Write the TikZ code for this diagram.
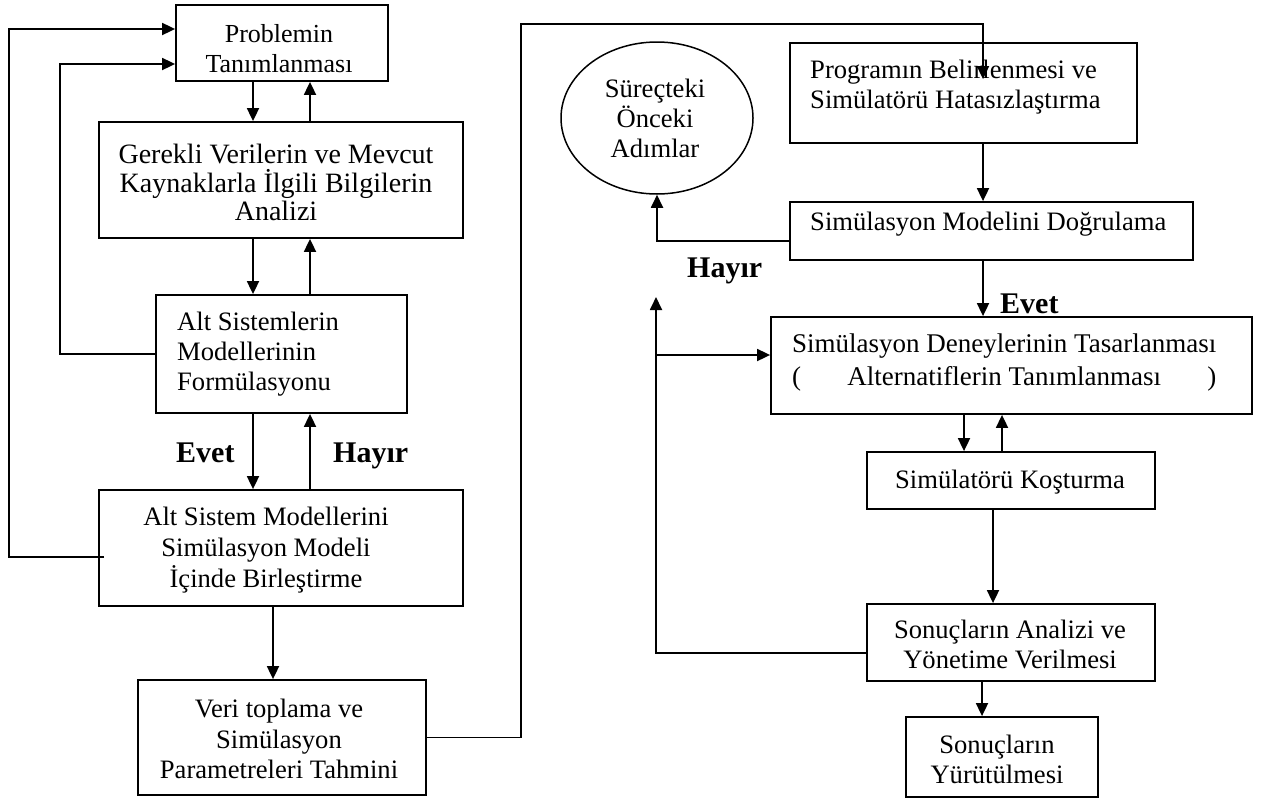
\documentclass[tikz,border=0pt]{standalone}
\usepackage{fontspec}
\setmainfont{Liberation Serif}
\usetikzlibrary{arrows.meta,shapes.geometric,calc}

\tikzset{
  box/.style={draw, line width=1.8pt, rectangle, inner sep=0pt},
  oval/.style={draw, line width=1.5pt, ellipse, inner sep=0pt},
  txt/.style={inner sep=0pt, align=center, font={\fontsize{26.6}{30}\selectfont}},
  txtl/.style={txt, align=left},
  yesno/.style={inner sep=0pt, anchor=base west, font={\fontsize{30}{34}\selectfont\bfseries}},
  arr/.style={line width=1.8pt, -{Triangle[length=13pt,width=12pt]}},
}

\begin{document}
\begin{tikzpicture}[x=1pt,y=-1pt]
\useasboundingbox (0,0) rectangle (1273,798);

% ---------- left column ----------
\node[box, minimum width=212, minimum height=76] (A) at (282,43) {};
\node[txt, anchor=north, font={\fontsize{26}{30}\selectfont}] (At) at (279,24) {Problemin\\Tanımlanması};

\node[box, minimum width=364, minimum height=116] (B) at (281,180) {};
\node[txt, anchor=north, font={\fontsize{28}{28.5}\selectfont}] (Bt) at (276,144)
  {Gerekli Verilerin ve Mevcut\\Kaynaklarla İlgili Bilgilerin\\Analizi};

\node[box, minimum width=251, minimum height=118] (C) at (281.5,354) {};
\node[txtl, anchor=north west] (Ct) at (177,312)
  {Alt Sistemlerin\\Modellerinin\\Formülasyonu};

\node[box, minimum width=364, minimum height=116] (D) at (281,548) {};
\node[txt, anchor=north, font={\fontsize{26.6}{31}\selectfont}] (Dt) at (266,507)
  {Alt Sistem Modellerini\\Simülasyon Modeli\\İçinde Birleştirme};

\node[box, minimum width=288, minimum height=115] (E) at (282,737.5) {};
\node[txt, anchor=north, font={\fontsize{26.6}{30.5}\selectfont}] (Et) at (279,699)
  {Veri toplama ve\\Simülasyon\\Parametreleri Tahmini};

\node[yesno] (evet1) at (176,462) {Evet};
\node[yesno] (hayir1) at (333,462) {Hayır};

% ---------- right column ----------
\node[oval, minimum width=192, minimum height=152] (Ell) at (657,118) {};
\node[txt, anchor=north] (Ellt) at (655,79) {Süreçteki\\Önceki\\Adımlar};

\node[box, minimum width=347, minimum height=100] (F) at (963.5,93) {};
\node[txtl, anchor=north west] (Ft) at (810,60)
  {Programın Belirlenmesi ve\\Simülatörü Hatasızlaştırma};

\node[box, minimum width=403, minimum height=58] (G) at (991.5,231) {};
\node[txt, anchor=base west] (Gt) at (810,230) {Simülasyon Modelini Doğrulama};

\node[box, minimum width=481, minimum height=97] (H) at (1011.5,365.5) {};
\node[txtl, anchor=north west, font={\fontsize{27}{33}\selectfont}] (Ht) at (792,334)
  {Simülasyon Deneylerinin Tasarlanması\\
   \makebox[424pt][s]{(\hfill Alternatiflerin Tanımlanması\hfill)}};

\node[box, minimum width=288, minimum height=57] (I) at (1011,480.5) {};
\node[txt, anchor=base] (It) at (1010,488) {Simülatörü Koşturma};

\node[box, minimum width=288, minimum height=77] (J) at (1011,642.5) {};
\node[txt, anchor=north] (Jt) at (1010,620) {Sonuçların Analizi ve\\Yönetime Verilmesi};

\node[box, minimum width=192, minimum height=80] (K) at (1002,757) {};
\node[txt, anchor=north] (Kt) at (997,735) {Sonuçların\\Yürütülmesi};

\node[yesno] (hayir2) at (687,277) {Hayır};
\node[yesno] (evet2) at (1000,313) {Evet};

% ---------- column positions for the vertical connectors ----------
\coordinate (xa) at (253,0);
\coordinate (xb) at (310,0);
\coordinate (xe) at (273,0);
\coordinate (xo) at (9,0);
\coordinate (xi) at (60,0);
\coordinate (xv) at (521,24);
\coordinate (xg) at (983,0);
\coordinate (xh1) at (964,0);
\coordinate (xh2) at (1002,0);
\coordinate (xij) at (993,0);
\coordinate (xjk) at (982,0);

% ---------- left column connectors ----------
\draw[arr] (A.south -| xa) -- (B.north -| xa);
\draw[arr] (B.north -| xb) -- (A.south -| xb);
\draw[arr] (B.south -| xa) -- (C.north -| xa);
\draw[arr] (C.north -| xb) -- (B.south -| xb);
\draw[arr] (C.south -| xa) -- (D.north -| xa);
\draw[arr] (D.north -| xb) -- (C.south -| xb);
\draw[arr] (D.south -| xe) -- (E.north -| xe);

% feedback loops back to the problem definition
\coordinate (aw1) at ([yshift=14pt]A.west);
\coordinate (aw2) at ([yshift=-21pt]A.west);
\coordinate (dl) at ($(D.west)+(6,9)$);
\draw[arr] (dl) -| (xo |- aw1) -- (aw1);
\draw[arr] (C.west) -| (xi |- aw2) -- (aw2);

% data collection feeds the program box
\coordinate (ftip) at ($(F.north -| xg)+(0,37)$);
\draw[arr] (E.east) -| (xv) -| (ftip);

% ---------- right column connectors ----------
\draw[arr] (F.south -| xg) -- (G.north -| xg);
\draw[arr] ([yshift=-10pt]G.west) -| (Ell.south);
\draw[arr] (G.south -| xg) -- (H.north -| xg);
\draw[arr] (H.south -| xh1) -- (I.north -| xh1);
\draw[arr] (I.north -| xh2) -- (H.south -| xh2);
\draw[arr] (I.south -| xij) -- (J.north -| xij);
\draw[arr] (J.south -| xjk) -- (K.north -| xjk);

% results loop back to the experiment design
\coordinate (loopend) at (656,297);
\coordinate (hw) at ([yshift=10.5pt]H.west);
\draw[arr] ([yshift=-10.5pt]J.west) -| (loopend);
\draw[arr] (loopend |- hw) -- (hw);
\end{tikzpicture}
\end{document}
